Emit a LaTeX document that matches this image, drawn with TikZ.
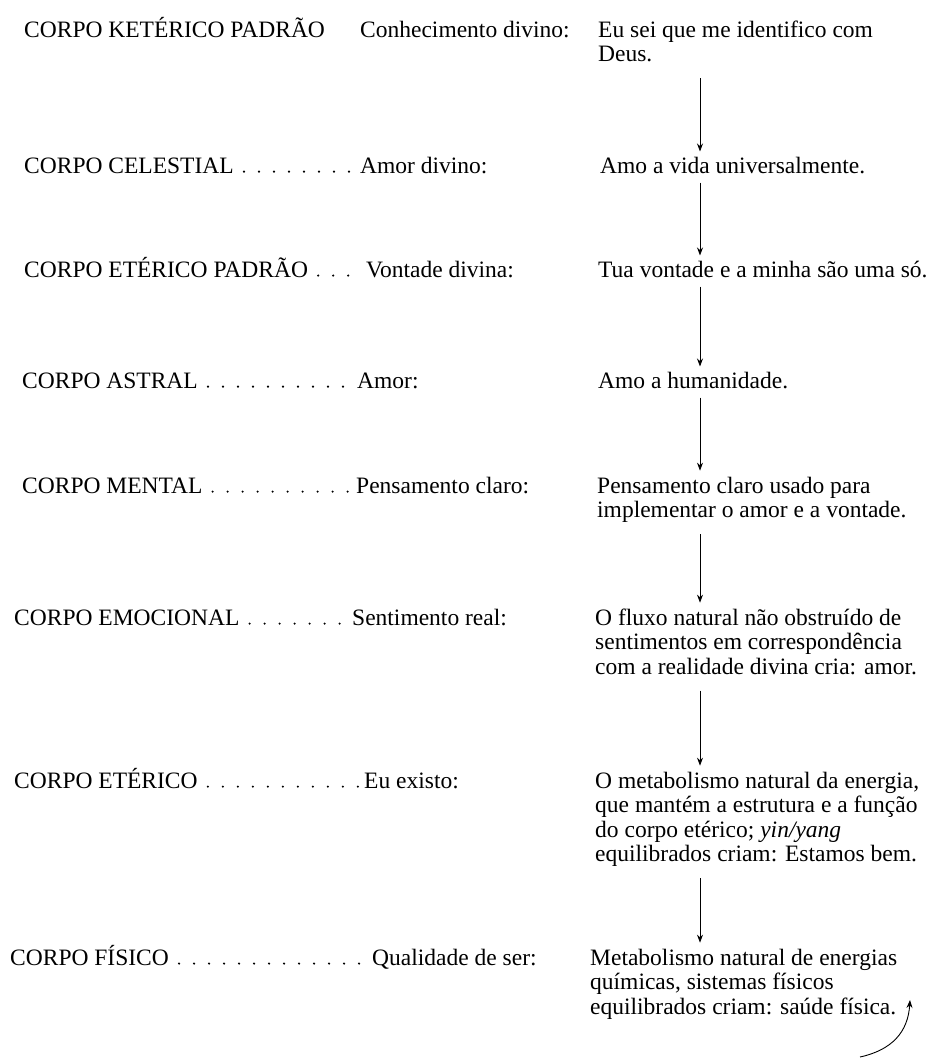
\documentclass[tikz,border=0pt]{standalone}
\usepackage{fontspec}
\setmainfont{Liberation Serif}
\usetikzlibrary{arrows.meta,positioning}
\newcommand{\corpofont}{\fontsize{23.5pt}{24.5pt}\selectfont}
\newcommand{\linhas}[1]{\begin{tabular}[t]{@{}l@{}}#1\end{tabular}}

\begin{document}
\begin{tikzpicture}[x=1pt,y=-1pt,
    txt/.style={font=\corpofont,inner sep=0pt,anchor=base west},
    leader/.style={line width=2.4pt,line cap=round,dash pattern=on 0pt off 15pt,
                   shorten <=10pt,shorten >=6pt},
    arr/.style={-{Stealth[length=8pt,width=6pt]},line width=0.9pt,
                shorten <=9pt,shorten >=5pt}
  ]
    \useasboundingbox (0,0) rectangle (933,1061);
    \coordinate (ax) at (700,0);

    \node[txt] (c1) at (24,37) {CORPO KETÉRICO PADRÃO};
    \node[txt] (q1) at (360,37) {Conhecimento divino:};
    \node[txt] (t1) at (598,37) {\linhas{Eu sei que me identifico com\\Deus.}};

    \node[txt] (c2) at (24,173) {CORPO CELESTIAL};
    \node[txt] (q2) at (360,173) {Amor divino:};
    \node[txt] (t2) at (600,173) {Amo a vida universalmente.};

    \node[txt] (c3) at (24,277) {CORPO ETÉRICO PADRÃO};
    \node[txt] (q3) at (366,277) {Vontade divina:};
    \node[txt] (t3) at (598,277) {Tua vontade e a minha são uma só.};

    \node[txt] (c4) at (22,388) {CORPO ASTRAL};
    \node[txt] (q4) at (357,388) {Amor:};
    \node[txt] (t4) at (598,388) {Amo a humanidade.};

    \node[txt] (c5) at (22,493) {CORPO MENTAL};
    \node[txt] (q5) at (356,493) {Pensamento claro:};
    \node[txt] (t5) at (597,493) {\linhas{Pensamento claro usado para\\implementar o amor e a vontade.}};

    \node[txt] (c6) at (14,625) {CORPO EMOCIONAL};
    \node[txt] (q6) at (352,625) {Sentimento real:};
    \node[txt] (t6) at (595,625) {\linhas{O fluxo natural não obstruído de\\sentimentos em correspondência\\com a realidade divina cria: amor.}};

    \node[txt] (c7) at (14,788) {CORPO ETÉRICO};
    \node[txt] (q7) at (364,788) {Eu existo:};
    \node[txt] (t7) at (595,788) {\linhas{O metabolismo natural da energia,\\que mantém a estrutura e a função\\do corpo etérico; \textit{yin/yang}\\equilibrados criam: Estamos bem.}};

    \node[txt] (c8) at (10,965) {CORPO FÍSICO};
    \node[txt] (q8) at (372,965) {Qualidade de ser:};
    \node[txt] (t8) at (590,965) {\linhas{Metabolismo natural de energias\\químicas, sistemas físicos\\equilibrados criam: saúde física.}};

    % pontilhado entre corpo e qualidade
    \foreach \i in {2,...,8}
      \draw[leader] ([yshift=1.4pt]c\i.base east) -- ([yshift=1.4pt]q\i.base west);

    % setas verticais
    \foreach \a/\b in {t1/t2,t2/t3,t3/t4,t4/t5,t5/t6,t6/t7,t7/t8}
      \draw[arr] (\a.south -| ax) -- (\b.north -| ax);

    \coordinate (volta0) at (860,1057);
    \coordinate (volta1) at (910,1000);
    \draw[arr,shorten <=0pt,shorten >=0pt] (volta0) .. controls (892,1050) and (908,1032) .. (volta1);
  \end{tikzpicture}
\end{document}
